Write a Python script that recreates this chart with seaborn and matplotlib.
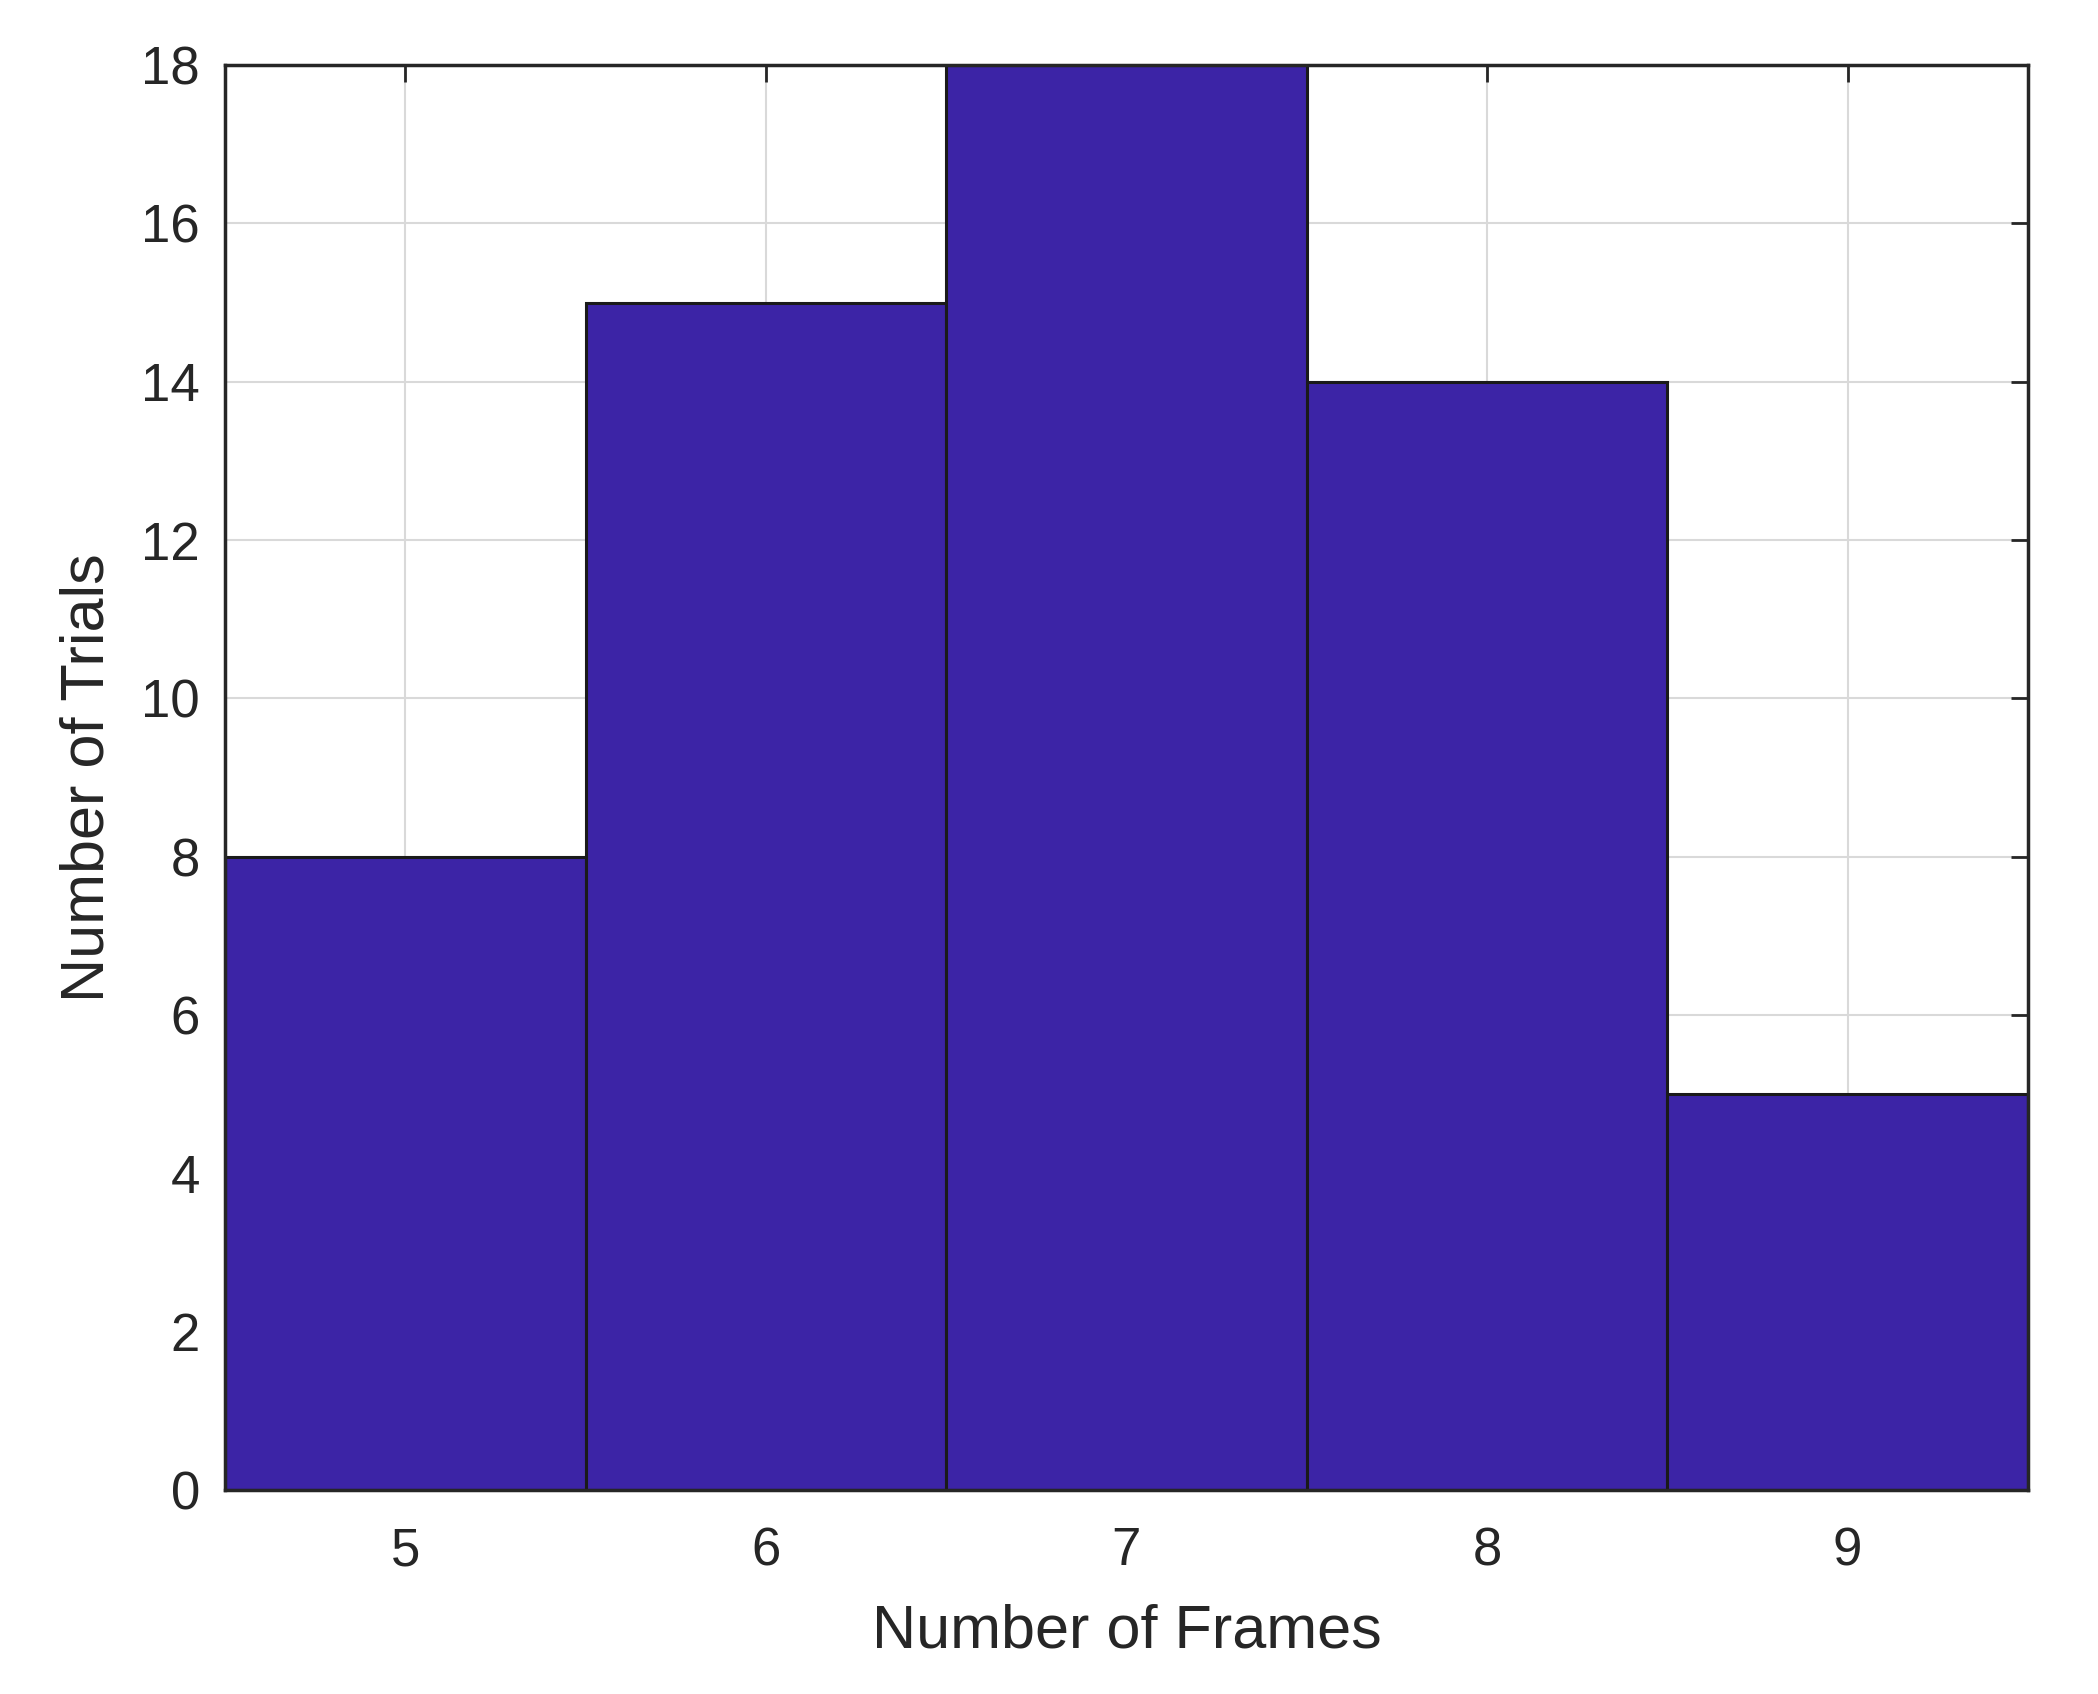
import numpy as np
import pandas as pd
import matplotlib
matplotlib.use("Agg")
import matplotlib.pyplot as plt
import seaborn as sns

frames = [5, 6, 7, 8, 9]
trials = [8, 15, 18, 14, 5]
x_ticks = [5, 6, 7, 8, 9]
y_ticks = [0, 2, 4, 6, 8, 10, 12, 14, 16, 18]

sns.set_style("white")
plt.rcParams['font.family'] = ['Liberation Sans', 'DejaVu Sans']

df = pd.DataFrame({"frames": frames, "trials": trials})

fig = plt.figure(figsize=(20.98, 16.94), dpi=100)
ax = fig.add_axes([0.1072, 0.1204, 0.9666 - 0.1072, 0.9616 - 0.1204])

sns.histplot(data=df, x="frames", weights="trials", discrete=True,
             color="#3c24a6", alpha=1.0, edgecolor="#1a1a1a", linewidth=2.2, ax=ax)

ax.set_xlim(4.5, 9.5)
ax.set_ylim(0, 18)
ax.set_xticks(x_ticks)
ax.set_yticks(y_ticks)
ax.grid(True, color="#d9d9d9", linewidth=1.5)
ax.set_axisbelow(True)
for s in ax.spines.values():
    s.set_visible(True)
    s.set_color("#262626")
    s.set_linewidth(2.5)
ax.tick_params(direction="in", length=12, width=2, color="#262626",
               top=True, right=True, labelsize=38, labelcolor="#262626")
ax.tick_params(axis="x", pad=26)
ax.tick_params(axis="y", pad=18)
ax.set_xlabel("Number of Frames", fontsize=44, color="#262626", labelpad=20)
ax.set_ylabel("Number of Trials", fontsize=44, color="#262626", labelpad=18)

fig.savefig("out.png", dpi=100)
